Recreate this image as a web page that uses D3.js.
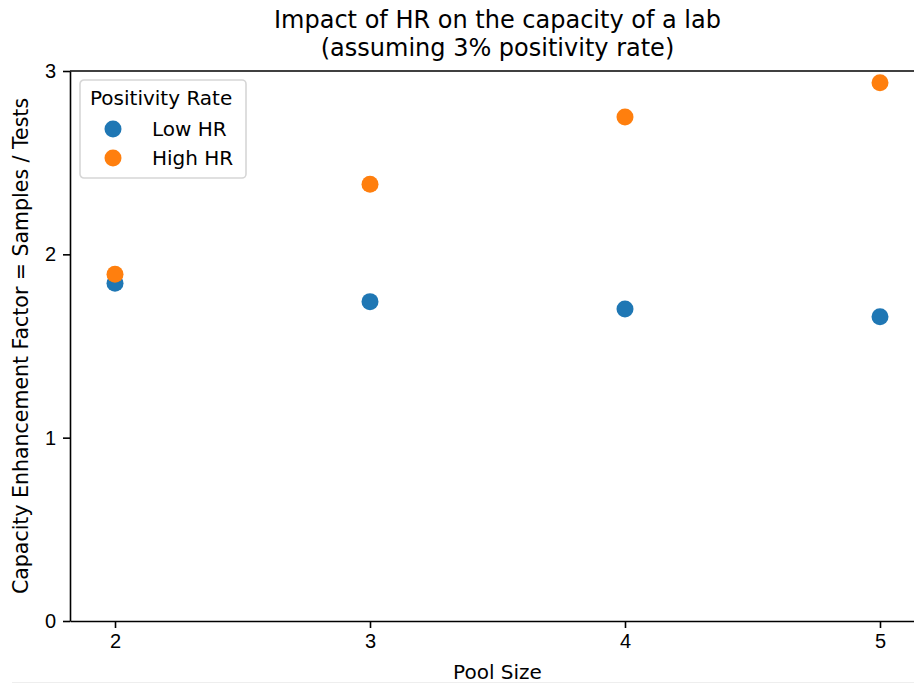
<!DOCTYPE html>
<html>
<head>
<meta charset="utf-8">
<script src="https://cdn.jsdelivr.net/npm/d3@7"></script>
<style>
  body { margin: 0; background: #fff; }
  svg { display: block; font-family: 'DejaVu Sans', sans-serif; }
  .axis text { font-size: 20px; fill: #000; }
  .axis path, .axis line { stroke: #000; stroke-width: 1.6px; }
</style>
</head>
<body>
<script>
'use strict';

const pool_sizes = [2, 3, 4, 5];
const low_hr = [1.842, 1.742, 1.702, 1.660];
const high_hr = [1.891, 2.382, 2.749, 2.936];
const series_names = ['Low HR', 'High HR'];
const series_colors = ['#1f77b4', '#ff7f0e'];
const y_ticks = [0, 1, 2, 3];
const title_lines = ['Impact of HR on the capacity of a lab', '(assuming 3% positivity rate)'];

const width = 914, height = 684;
const margin = {top: 71, right: -11, bottom: 63, left: 70};

const svg = d3.select('body').append('svg')
    .attr('width', width)
    .attr('height', height);

const xScale = d3.scaleLinear().domain([1.8235, 5.1765]).range([margin.left, width - margin.right]);
const yScale = d3.scaleLinear().domain([0, 3]).range([height - margin.bottom, margin.top]);

const xAxis = d3.axisBottom(xScale).tickValues(pool_sizes).tickFormat(d3.format('d'))
    .tickSizeInner(7).tickSizeOuter(0).tickPadding(6);
const yAxis = d3.axisLeft(yScale).tickValues(y_ticks).tickFormat(d3.format('d'))
    .tickSizeInner(7).tickSizeOuter(0).tickPadding(7);

svg.append('g')
    .attr('class', 'axis x-axis')
    .attr('transform', `translate(0,${height - margin.bottom})`)
    .call(xAxis);
svg.append('g')
    .attr('class', 'axis y-axis')
    .attr('transform', `translate(${margin.left},0)`)
    .call(yAxis);

// top spine
svg.append('line')
    .attr('x1', margin.left).attr('x2', width - margin.right)
    .attr('y1', margin.top).attr('y2', margin.top)
    .attr('stroke', '#000').attr('stroke-width', 1.6);

// points
const series = [low_hr, high_hr];
series.forEach((vals, i) => {
    svg.append('g').selectAll('circle')
        .data(vals)
        .join('circle')
        .attr('cx', (d, j) => xScale(pool_sizes[j]))
        .attr('cy', d => yScale(d))
        .attr('r', 8.5)
        .attr('fill', series_colors[i]);
});

// title
svg.append('text')
    .attr('x', (margin.left + width - margin.right) / 2)
    .attr('text-anchor', 'middle')
    .attr('font-size', 24)
    .selectAll('tspan')
    .data(title_lines)
    .join('tspan')
    .attr('x', (margin.left + width - margin.right) / 2)
    .attr('y', (d, i) => 28 + i * 28)
    .text(d => d);

// axis labels
svg.append('text')
    .attr('x', (margin.left + width - margin.right) / 2)
    .attr('y', 679)
    .attr('text-anchor', 'middle')
    .attr('font-size', 20)
    .text('Pool Size');
svg.append('text')
    .attr('transform', `translate(28,${(margin.top + height - margin.bottom) / 2}) rotate(-90)`)
    .attr('text-anchor', 'middle')
    .attr('font-size', 20.5)
    .text('Capacity Enhancement Factor = Samples / Tests');

// legend
const legend = svg.append('g').attr('transform', 'translate(80,80)');
legend.append('rect')
    .attr('width', 166).attr('height', 98)
    .attr('rx', 4)
    .attr('fill', '#fff').attr('fill-opacity', 0.8)
    .attr('stroke', '#d6d6d6').attr('stroke-width', 1.6);
legend.append('text')
    .attr('x', 10).attr('y', 25)
    .attr('font-size', 20)
    .text('Positivity Rate');
const items = legend.selectAll('.item')
    .data(series_names)
    .join('g')
    .attr('class', 'item')
    .attr('transform', (d, i) => `translate(0,${49 + i * 29})`);
items.append('circle')
    .attr('cx', 33).attr('cy', 0).attr('r', 8.5)
    .attr('fill', (d, i) => series_colors[i]);
items.append('text')
    .attr('x', 72).attr('y', 7)
    .attr('font-size', 20)
    .text(d => d);

// faint bottom edge
svg.append('line')
    .attr('x1', 12).attr('x2', width).attr('y1', 682.5).attr('y2', 682.5)
    .attr('stroke', '#eeeeee').attr('stroke-width', 1);
</script>
</body>
</html>
